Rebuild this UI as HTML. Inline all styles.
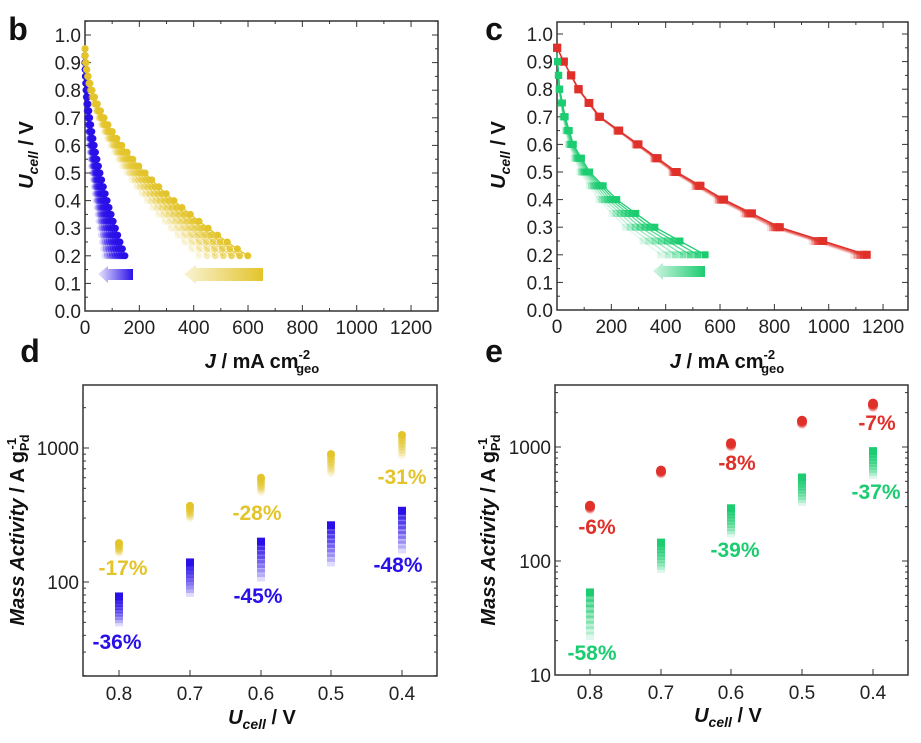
<!DOCTYPE html>
<html><head><meta charset="utf-8"><style>
html,body{margin:0;padding:0;background:#fff}
svg{display:block;font-family:"Liberation Sans",Arial,sans-serif}
</style></head><body>
<svg id="s" width="921" height="743" viewBox="0 0 921 743" xmlns="http://www.w3.org/2000/svg">
<defs>
<linearGradient id="gb" x1="0" x2="1"><stop offset="0" stop-color="#2a10e8" stop-opacity="0.1"/><stop offset="1" stop-color="#2a10e8"/></linearGradient>
<linearGradient id="gy" x1="0" x2="1"><stop offset="0" stop-color="#e3c42a" stop-opacity="0.2"/><stop offset="1" stop-color="#e3c42a"/></linearGradient>
<linearGradient id="gg" x1="0" x2="1"><stop offset="0" stop-color="#1ccc70" stop-opacity="0.2"/><stop offset="1" stop-color="#1ccc70"/></linearGradient>
</defs>
<g id="g"></g>
</svg>
<script>
const G=document.getElementById('g');let h='';
const B='#2a10e8',Y='#e3c42a',R='#e0302a',GR='#1ccc70';
function t(x,y,s,o){o=o||{};h+=`<text x="${x}" y="${y}" font-size="${o.fs||19}" text-anchor="${o.a||'middle'}" fill="${o.c||'#222'}" font-weight="${o.w||'normal'}">${s}</text>`;}
function linPanel(x0,y0,x1,y1,X0,Y1){
 h+=`<rect x="${x0}" y="${y0}" width="${x1-x0}" height="${y1-y0}" fill="none" stroke="#333" stroke-width="1.5"/>`;
 const sx=0.2717,sy=276;
 for(let j=0;j<=1300;j+=100){const x=X0+j*sx;if(x>x1)break;const L=j%200==0?6:3;
  h+=`<line x1="${x}" y1="${y1}" x2="${x}" y2="${y1-L}" stroke="#333"/><line x1="${x}" y1="${y0}" x2="${x}" y2="${y0+L}" stroke="#333"/>`;
  if(j%200==0)t(x,y1+23,j);}
 for(let k=0;k<=21;k++){const u=k*0.05;const y=Y1-u*sy;if(y<y0)break;const L=k%2==0?6:3;
  h+=`<line x1="${x0}" y1="${y}" x2="${x0+L}" y2="${y}" stroke="#333"/><line x1="${x1}" y1="${y}" x2="${x1-L}" y2="${y}" stroke="#333"/>`;
  if(k%2==0)t(x0-4,y+7,(u).toFixed(1),{a:'end'});}
}
function interp(us,js,u){if(u>us[0])return NaN;for(let i=0;i<us.length-1;i++){if(u<=us[i]&&u>=us[i+1]){const f=(us[i]-u)/(us[i]-us[i+1]);return js[i]+f*(js[i+1]-js[i]);}}return js[js.length-1];}
function curves(X0,Y1,fn,n,smin,col,shape,step,r){
 for(let c=0;c<n;c++){const s=smin+(1-smin)*c/(n-1);const op=0.15+0.85*c/(n-1);
  let pts=[];for(let i=0;i<=150;i++){const u=0.2+i*0.005;const j=fn(u)*s;if(isNaN(j))continue;pts.push([X0+j*0.2717,Y1-u*276]);}
  h+=`<polyline points="${pts.map(p=>p.join(',')).join(' ')}" fill="none" stroke="${col}" stroke-width="1.3" opacity="${op}"/>`;
  const ns=Math.round(0.75/step);
  for(let i=0;i<=ns;i++){const u=0.2+i*step;const j=fn(u)*s;if(isNaN(j))continue;const x=X0+j*0.2717,y=Y1-u*276;
   if(shape=='c')h+=`<circle cx="${x}" cy="${y}" r="${r}" fill="${col}" opacity="${op}"/>`;else h+=`<rect x="${x-r}" y="${y-r}" width="${2*r}" height="${2*r}" fill="${col}" opacity="${op}"/>`;}
 }}
// Panel b
linPanel(85,21,438,311,85,311);
curves(85,311,u=>u>0.931?NaN:263*Math.pow(Math.max(0,0.93-u),1.85),9,0.5,B,'c',0.025,3.5);
curves(85,311,u=>u>0.951?NaN:1050*Math.pow(Math.max(0,0.95-u),1.95),7,0.7,Y,'c',0.025,3.5);
h+=`<polygon points="98,274 108,266 108,269 133,269 133,280 108,280 108,283" fill="url(#gb)"/>`;
h+=`<polygon points="184,274 196,265 196,268 263,268 263,281 196,281 196,284" fill="url(#gy)"/>`;
// Panel c
linPanel(557,22,908,310,557,310);
const rU=[0.951,0.9,0.8,0.7,0.6,0.5,0.4,0.3,0.2],rJ=[0,25,80,158,300,441,615,820,1140];
curves(557,310,u=>interp(rU,rJ,u),5,0.96,R,'s',0.05,4);
const gU=[0.931,0.8,0.7,0.6,0.5,0.4,0.3,0.2],gJ=[0,10,30,60,120,220,360,545];
curves(557,310,u=>interp(gU,gJ,u),7,0.7,GR,'s',0.05,3.5);
h+=`<polygon points="653,271 663,263 663,266 705,266 705,277 663,277 663,280" fill="url(#gg)"/>`;
function logPanel(x0,y0,x1,y1,y1000,dec,labels,minDec,maxDec){
 h+=`<rect x="${x0}" y="${y0}" width="${x1-x0}" height="${y1-y0}" fill="none" stroke="#333" stroke-width="1.5"/>`;
 for(let d=minDec;d<=maxDec;d++)for(let m=1;m<10;m++){const v=Math.pow(10,d)*m;const y=y1000-(Math.log10(v)-3)*dec;if(y<y0||y>y1)continue;const L=m==1?6:3;
  h+=`<line x1="${x0}" y1="${y}" x2="${x0+L}" y2="${y}" stroke="#333"/><line x1="${x1}" y1="${y}" x2="${x1-L}" y2="${y}" stroke="#333"/>`;
  if(m==1&&labels.includes(v))t(x0-4,y+7,v,{a:'end'});}
}
function xt(xs,y0,y1){xs.forEach((x,i)=>{h+=`<line x1="${x}" y1="${y1}" x2="${x}" y2="${y1-6}" stroke="#333"/>`;t(x,y1+24,['0.8','0.7','0.6','0.5','0.4'][i]);});}
function stack(x,yf,top,bot,n,col,shape,r){for(let k=n-1;k>=0;k--){const v=top*Math.pow(bot/top,k/(n-1));const y=yf(v);const op=k==0?1:0.75-0.6*k/(n-1);
 if(shape=='c')h+=`<circle cx="${x}" cy="${y}" r="${r}" fill="${col}" opacity="${op}"/>`;else h+=`<rect x="${x-r}" y="${y-r}" width="${2*r}" height="${2*r}" fill="${col}" opacity="${op}"/>`;}}
// Panel d
logPanel(83,385,437,676,448,134,[100,1000],1,3);
const xd=[119,190,261,331,402];xt(xd,385,676);
const yd=v=>448-(Math.log10(v)-3)*134;
[[195,165],[370,300],[600,470],[900,650],[1250,880]].forEach((p,i)=>stack(xd[i],yd,p[0],p[1],8,Y,'c',4));
[[78,50],[140,83],[200,108],[265,140],[340,175]].forEach((p,i)=>stack(xd[i],yd,p[0],p[1],9,B,'s',4));
const lb={fs:21,w:'bold'};
[['-17%',123,575,Y],['-28%',257,520,Y],['-31%',402,484,Y],['-36%',117,649,B],['-45%',258,603,B],['-48%',398,572,B]].forEach(a=>t(a[1],a[2],a[0],Object.assign({c:a[3]},lb)));
// Panel e
logPanel(555,385,908,675,447,114,[10,100,1000],1,3);
const xe=[590,661,731,802,873];xt(xe,385,675);
const ye=v=>447-(Math.log10(v)-3)*114;
[[305,285],[620,585],[1080,1010],[1700,1590],[2400,2230]].forEach((p,i)=>stack(xe[i],ye,p[0],p[1],5,R,'c',5));
[[53,22],[145,85],[290,175],[540,330],[920,570]].forEach((p,i)=>stack(xe[i],ye,p[0],p[1],9,GR,'s',4));
[['-6%',597,534,R],['-8%',737,470,R],['-7%',877,430,R],['-58%',592,660,GR],['-39%',735,557,GR],['-37%',876,499,GR]].forEach(a=>t(a[1],a[2],a[0],Object.assign({c:a[3]},lb)));
[['b',18,40],['c',494,40],['d',30,362],['e',494,362]].forEach(a=>t(a[1],a[2],a[0],{fs:32,w:'bold',c:'#111'}));
const bo='font-weight="bold" fill="#111"';
function ylab(x,y){h+=`<text transform="translate(${x},${y}) rotate(-90)" text-anchor="middle" font-size="20" ${bo}><tspan font-style="italic">U</tspan><tspan font-size="14" dy="5" font-style="italic">cell</tspan><tspan dy="-5"> / V</tspan></text>`;}
ylab(33,155);ylab(505,155);
function jlab(x,y){h+=`<text x="${x}" y="${y}" text-anchor="middle" font-size="20" ${bo}><tspan font-style="italic">J</tspan> / mA cm<tspan font-size="13" dy="-9">-2</tspan><tspan font-size="13" dx="-14" dy="14">geo</tspan></text>`;}
jlab(262,368);jlab(727,368);
function ulab(x,y){h+=`<text x="${x}" y="${y}" text-anchor="middle" font-size="20" ${bo}><tspan font-style="italic">U</tspan><tspan font-size="14" dy="5" font-style="italic">cell</tspan><tspan dy="-5"> / V</tspan></text>`;}
ulab(262,724);ulab(728,722);
function mlab(x,y){h+=`<text transform="translate(${x},${y}) rotate(-90)" text-anchor="middle" font-size="20" ${bo}><tspan font-style="italic">Mass Activity</tspan> / A g<tspan font-size="13" dy="5">Pd</tspan><tspan font-size="13" dx="-15" dy="-13">-1</tspan></text>`;}
mlab(24,530);mlab(495,530);
G.innerHTML=h;
</script>
</body></html>
